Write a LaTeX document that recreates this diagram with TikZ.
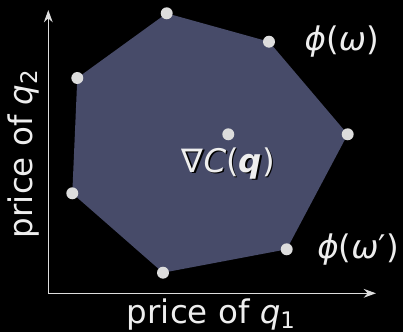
\documentclass[tikz,border=0pt]{standalone}
\usepackage{fontspec}
\setmainfont{DejaVu Sans}
\usetikzlibrary{calc, arrows.meta, positioning}
\definecolor{polycolor}{HTML}{474B69}
\definecolor{dotcolor}{HTML}{DDDDDD}
\definecolor{axiscolor}{HTML}{DDDDDD}
\definecolor{textcolor}{HTML}{EEEEEE}
\newcommand{\lowidx}[1]{\raisebox{-0.15em}{\fontsize{13}{13}\selectfont #1}}

\begin{document}
\begin{tikzpicture}[
    x=0.02cm, y=0.02cm,
    >={Stealth[length=7pt, width=5pt]},
    font=\fontsize{18.5}{20}\selectfont,
    vertex/.style={circle, fill=dotcolor, inner sep=0pt, minimum size=6.8pt},
    axis/.style={->, axiscolor, line width=0.7pt},
    label/.style={text=textcolor, inner sep=1pt}
]

    % Background and frame
    \fill[black] (0,0) rectangle (403,332);
    \useasboundingbox (0,0) rectangle (403,332);

    % 1. Axes
    \coordinate (origin) at (48.3,38.7);
    \coordinate (xend) at (376,38.7);
    \coordinate (yend) at (48.3,322);
    \draw[axis] (origin) -- (xend);
    \draw[axis] (origin) -- (yend);
    \node[label] (xlabel) at (211,17) {price of \textit{q}\lowidx{1}};
    \node[label, rotate=90] (ylabel) at (24,178) {price of \textit{q}\lowidx{2}};

    % 2. Polytope vertices
    \coordinate (p1) at (166.7,318.7);
    \coordinate (p2) at (269,290.3);
    \coordinate (p3) at (347.7,197.7);
    \coordinate (p4) at (286.7,82.7);
    \coordinate (p5) at (163,59.3);
    \coordinate (p6) at (72.3,138.7);
    \coordinate (p7) at (77.3,254);
    \fill[polycolor] (p1) -- (p2) -- (p3) -- (p4) -- (p5) -- (p6) -- (p7) -- cycle;
    \foreach \i in {1,...,7} {
        \node[vertex] (v\i) at (p\i) {};
    }

    % 3. Interior point
    \node[vertex] (grad) at (228.3,197.7) {};
    \node[text=black, inner sep=1pt] at (229.8,167.2) {∇\textit{C}(\textbf{\textit{q}})}; % shadow
    \node[label] (gradlabel) at (228.3,168.7) {∇\textit{C}(\textbf{\textit{q}})};

    % 4. Outcome labels
    \node[label] (phiw) at (341.7,290) {\textit{ϕ}(\textit{ω})};
    \node[label] (phiwp) at (358,82.5) {\textit{ϕ}(\textit{ω}′)};

\end{tikzpicture}
\end{document}
